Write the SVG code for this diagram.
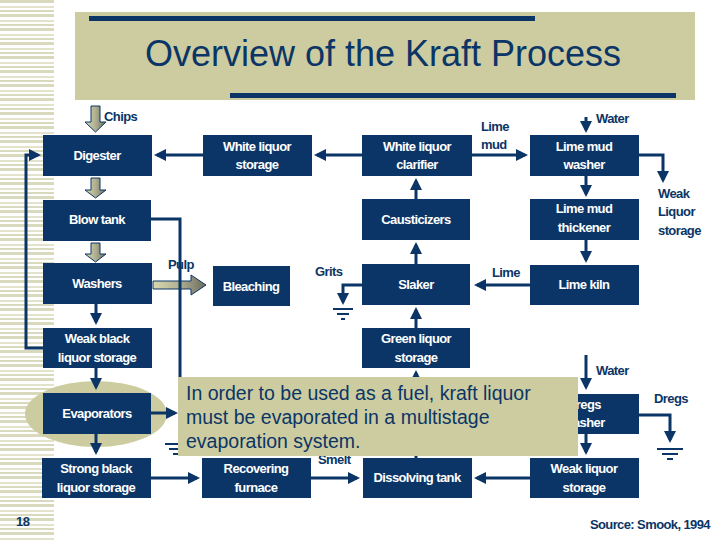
<svg xmlns="http://www.w3.org/2000/svg" width="720" height="540" viewBox="0 0 720 540">
<defs>
<style>
.b{fill:#0b3566}
.t{font-family:"Liberation Sans",Arial,sans-serif;font-weight:bold;font-size:13px;fill:#fff;text-anchor:middle;letter-spacing:-0.6px}
.l{font-family:"Liberation Sans",Arial,sans-serif;font-weight:bold;font-size:13px;fill:#0b3566;letter-spacing:-0.6px}
.c{stroke:#0b3566;stroke-width:3;fill:none}
.g{stroke:#0b3566;stroke-width:2;fill:none}
.ba{fill:url(#gr);stroke:#0b3566;stroke-width:1}
</style>
<linearGradient id="gr" x1="0" y1="0" x2="1" y2="0"><stop offset="0" stop-color="#d8d8b0"/><stop offset="0.5" stop-color="#b0b090"/><stop offset="1" stop-color="#6a6a60"/></linearGradient>
<marker id="a" markerWidth="4" markerHeight="4" refX="3" refY="2" orient="auto" markerUnits="strokeWidth"><path d="M0,0 L4,2 L0,4 z" fill="#0b3566"/></marker>
<pattern id="st" width="54" height="14" patternUnits="userSpaceOnUse"><rect y="0" width="54" height="3" fill="#d9d9bd"/><rect y="6" width="54" height="2" fill="#e3e3cc"/><rect y="10" width="54" height="2" fill="#d9d9bd"/></pattern>
</defs>
<rect width="720" height="540" fill="#fff"/>
<rect x="0" y="0" width="54" height="540" fill="url(#st)"/>
<g id="title">
<rect x="75" y="12" width="620" height="88" fill="#cccca0"/>
<rect x="89" y="16" width="446" height="5" fill="#0b3566"/>
<rect x="230" y="93" width="446" height="5" fill="#0b3566"/>
<text x="383" y="66" font-family="Liberation Sans,Arial,sans-serif" font-size="36" fill="#0b3566" text-anchor="middle">Overview of the Kraft Process</text>
</g>
<ellipse cx="96" cy="414" rx="71" ry="33" fill="#cccca0"/>
<g id="connectors">
<path class="ba" d="M91,106 h9 v16 h6 l-10.5,10 l-10.5,-10 h6 z"/>
<path class="ba" d="M91,178 h9 v12 h6 l-10.5,8 l-10.5,-8 h6 z"/>
<path class="ba" d="M91,243 h9 v11 h6 l-10.5,8 l-10.5,-8 h6 z"/>
<path class="ba" d="M153,281 h38 v-6 l15,10 l-15,10 v-6 h-38 z"/>
<path class="c" d="M203,155 H157" marker-end="url(#a)"/>
<path class="c" d="M362,155 H317" marker-end="url(#a)"/>
<path class="c" d="M472,155 H525" marker-end="url(#a)"/>
<path class="c" d="M586,117 V130" marker-end="url(#a)"/>
<path class="c" d="M639,155 H663 V180" marker-end="url(#a)"/>
<path class="c" d="M586,176 V194" marker-end="url(#a)"/>
<path class="c" d="M586,240 V260" marker-end="url(#a)"/>
<path class="c" d="M530,285 H477" marker-end="url(#a)"/>
<path class="c" d="M416,264 V245" stroke-width="4" marker-end="url(#a)"/>
<path class="c" d="M416,199 V181" stroke-width="4" marker-end="url(#a)"/>
<path class="c" d="M416,328 V310" stroke-width="4" marker-end="url(#a)"/>
<path class="c" d="M416,458 V373" stroke-width="4" marker-end="url(#a)"/>
<path class="c" d="M362,285 H343 V302" marker-end="url(#a)"/>
<path class="g" d="M333,309 H353 M337,314 H349 M341,319 H345"/>
<path class="c" d="M151,219 H180 V385"/>
<path class="c" d="M96,304 V322" stroke-width="4" marker-end="url(#a)"/>
<path class="c" d="M43,348 H26 V155 H38" marker-end="url(#a)"/>
<path class="c" d="M96,368 V387" stroke-width="4" marker-end="url(#a)"/>
<path class="c" d="M96,434 V452" stroke-width="4" marker-end="url(#a)"/>
<path class="c" d="M151,413 H175" marker-end="url(#a)"/>
<path class="g" d="M165,444 H180 M169,449 H180 M173,454 H180"/>
<path class="c" d="M151,478 H197" marker-end="url(#a)"/>
<path class="c" d="M311,478 H357" marker-end="url(#a)"/>
<path class="c" d="M530,478 H477" marker-end="url(#a)"/>
<path class="c" d="M586,355 V387" marker-end="url(#a)"/>
<path class="c" d="M586,434 V452" marker-end="url(#a)"/>
<path class="c" d="M639,415 H670 V440" marker-end="url(#a)"/>
<path class="g" d="M657,449 H683 M662,454 H678 M667,459 H673"/>
</g>
<g id="n-digester"><rect class="b" x="43" y="135" width="109" height="41"/><text class="t" x="97" y="160">Digester</text></g>
<g id="n-wls"><rect class="b" x="203" y="135" width="109" height="41"/><text class="t" x="257" y="151">White liquor</text><text class="t" x="257" y="169">storage</text></g>
<g id="n-wlc"><rect class="b" x="362" y="135" width="110" height="41"/><text class="t" x="417" y="151">White liquor</text><text class="t" x="417" y="169">clarifier</text></g>
<g id="n-lmw"><rect class="b" x="530" y="135" width="109" height="41"/><text class="t" x="584" y="151">Lime mud</text><text class="t" x="584" y="169">washer</text></g>
<g id="n-blow"><rect class="b" x="43" y="200" width="108" height="41"/><text class="t" x="97" y="224">Blow tank</text></g>
<g id="n-caus"><rect class="b" x="362" y="199" width="108" height="41"/><text class="t" x="416" y="224">Causticizers</text></g>
<g id="n-lmt"><rect class="b" x="530" y="199" width="109" height="41"/><text class="t" x="584" y="213">Lime mud</text><text class="t" x="584" y="232">thickener</text></g>
<g id="n-washers"><rect class="b" x="43" y="263" width="109" height="41"/><text class="t" x="97" y="288">Washers</text></g>
<g id="n-bleach"><rect class="b" x="213" y="266" width="77" height="40"/><text class="t" x="251" y="291">Bleaching</text></g>
<g id="n-slaker"><rect class="b" x="362" y="264" width="108" height="41"/><text class="t" x="416" y="289">Slaker</text></g>
<g id="n-kiln"><rect class="b" x="530" y="265" width="109" height="40"/><text class="t" x="584" y="289">Lime kiln</text></g>
<g id="n-wbl"><rect class="b" x="43" y="328" width="109" height="40"/><text class="t" x="97" y="343">Weak black</text><text class="t" x="97" y="362">liquor storage</text></g>
<g id="n-gls"><rect class="b" x="362" y="328" width="108" height="40"/><text class="t" x="416" y="343">Green liquor</text><text class="t" x="416" y="362">storage</text></g>
<g id="n-evap"><rect class="b" x="43" y="393" width="108" height="41"/><text class="t" x="97" y="418">Evaporators</text></g>
<g id="n-dregs"><rect class="b" x="530" y="394" width="109" height="40"/><text class="t" x="584" y="409">Dregs</text><text class="t" x="584" y="427">washer</text></g>
<g id="n-sbl"><rect class="b" x="42" y="458" width="109" height="40"/><text class="t" x="96" y="473">Strong black</text><text class="t" x="96" y="492">liquor storage</text></g>
<g id="n-rf"><rect class="b" x="202" y="458" width="109" height="40"/><text class="t" x="256" y="473">Recovering</text><text class="t" x="256" y="492">furnace</text></g>
<g id="n-dt"><rect class="b" x="363" y="458" width="109" height="40"/><text class="t" x="417" y="482">Dissolving tank</text></g>
<g id="n-wlst"><rect class="b" x="530" y="458" width="109" height="40"/><text class="t" x="584" y="473">Weak liquor</text><text class="t" x="584" y="492">storage</text></g>
<g id="labels">
<text class="l" x="104" y="121">Chips</text>
<text class="l" x="481" y="131">Lime</text>
<text class="l" x="481" y="149">mud</text>
<text class="l" x="596" y="123">Water</text>
<text class="l" x="658" y="198">Weak</text>
<text class="l" x="658" y="216">Liquor</text>
<text class="l" x="658" y="235">storage</text>
<text class="l" x="168" y="269">Pulp</text>
<text class="l" x="315" y="276">Grits</text>
<text class="l" x="492" y="277">Lime</text>
<text class="l" x="596" y="375">Water</text>
<text class="l" x="654" y="403">Dregs</text>
<text class="l" x="318" y="464">Smelt</text>
<text class="l" x="16" y="526" font-size="14">18</text>
<text class="l" x="710" y="529" font-size="9" letter-spacing="-0.3" text-anchor="end">Source: Smook, 1994</text>
</g>
<g id="callout">
<rect x="178" y="377" width="400" height="79" fill="#cccca0"/>
<text font-family="Liberation Sans,Arial,sans-serif" font-size="19.5" fill="#0b3566"><tspan x="186" y="400">In order to be used as a fuel, kraft liquor</tspan><tspan x="186" y="424">must be evaporated in a multistage</tspan><tspan x="186" y="448">evaporation system.</tspan></text>
</g>
</svg>
